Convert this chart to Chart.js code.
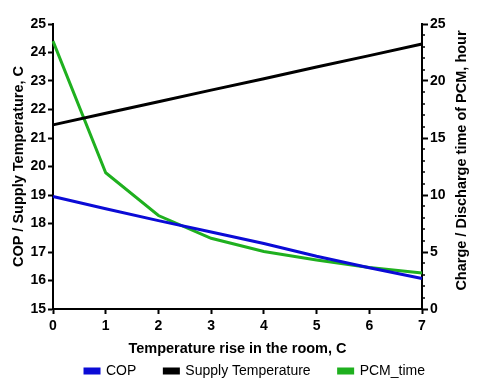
<!DOCTYPE html>
<html>
<head>
<meta charset="utf-8">
<script src="https://cdn.jsdelivr.net/npm/chart.js@4"></script>
<style>
  html, body { margin: 0; padding: 0; background: #fff; }
  #wrap { width: 480px; height: 388px; }
</style>
</head>
<body>
<div id="wrap"><canvas id="chartCop"></canvas></div>
<script>
// data
var riseLabels = [0, 1, 2, 3, 4, 5, 6, 7];
var copValues = [18.95, 18.52, 18.1, 17.7, 17.3, 16.85, 16.45, 16.07];
var supplyValues = [21.46, 21.87, 22.27, 22.68, 23.08, 23.49, 23.89, 24.3];
var pcmValues = [23.5, 11.95, 8.2, 6.2, 5.05, 4.3, 3.65, 3.15];

var fontFamily = '"Liberation Sans", Arial, sans-serif';
var rightTitle = 'Charge / Discharge time of PCM, hour';

// small ticks every 1 hour on the right axis + right title read bottom-to-top
var rightAxisExtras = {
    id: 'rightAxisExtras',
    afterDraw: function(chart) {
        var s = chart.scales.y1;
        var ctx = chart.ctx;
        ctx.save();
        ctx.strokeStyle = '#000';
        ctx.lineWidth = 1.5;
        for (var v = s.min; v <= s.max; v++) {
            if (v % 5 === 0) continue;
            var y = Math.round(s.getPixelForValue(v));
            ctx.beginPath();
            ctx.moveTo(s.left, y);
            ctx.lineTo(s.left + 3, y);
            ctx.stroke();
        }
        ctx.translate(s.right - 18, (chart.chartArea.top + chart.chartArea.bottom) / 2 - 6);
        ctx.rotate(-Math.PI / 2);
        ctx.fillStyle = '#000';
        ctx.font = 'bold 14.5px ' + fontFamily;
        ctx.textAlign = 'center';
        ctx.textBaseline = 'middle';
        ctx.fillText(rightTitle, 0, 0);
        ctx.restore();
    }
};

var ctx = document.getElementById('chartCop');
var myChartCop = new Chart(ctx, {
    type: 'line',
    data: {
        labels: riseLabels,
        datasets: [{
            label: 'COP',
            data: copValues,
            borderColor: '#0b0bd6',
            backgroundColor: '#0b0bd6',
            borderWidth: 3,
            pointRadius: 0,
            yAxisID: 'y'
        }, {
            label: 'Supply Temperature',
            data: supplyValues,
            borderColor: '#000000',
            backgroundColor: '#000000',
            borderWidth: 3,
            pointRadius: 0,
            yAxisID: 'y'
        }, {
            label: 'PCM_time',
            data: pcmValues,
            borderColor: '#1fb01f',
            backgroundColor: '#1fb01f',
            borderWidth: 3,
            pointRadius: 0,
            yAxisID: 'y1'
        }]
    },
    options: {
        responsive: true,
        maintainAspectRatio: false,
        animation: false,
        // left padding shifts the legend right like in the reference
        layout: { padding: { top: 24, left: 30, right: 0, bottom: 0 } },
        plugins: {
            legend: {
                position: 'bottom',
                labels: {
                    boxWidth: 14,
                    boxHeight: 4,
                    padding: 28,
                    color: '#000',
                    font: { family: fontFamily, size: 14 }
                }
            },
            tooltip: { enabled: false }
        },
        scales: {
            x: {
                offset: false,
                grid: { drawOnChartArea: false, tickLength: 5, tickWidth: 2, tickColor: '#000' },
                border: { color: '#000', width: 2 },
                ticks: { color: '#000', padding: 4, maxRotation: 0, font: { family: fontFamily, size: 14, weight: 'bold' } },
                title: {
                    display: true,
                    text: 'Temperature rise in the room, C',
                    color: '#000',
                    padding: { top: 0, bottom: -22 },
                    font: { family: fontFamily, size: 14.5, weight: 'bold' }
                },
                afterFit: function(scale) { scale.height = 27; }
            },
            y: {
                type: 'linear',
                position: 'left',
                min: 15,
                max: 25,
                grid: { drawOnChartArea: false, tickLength: 5, tickWidth: 2, tickColor: '#000' },
                border: { color: '#000', width: 2 },
                ticks: { stepSize: 1, color: '#000', padding: 2, font: { family: fontFamily, size: 14, weight: 'bold' } },
                title: {
                    display: true,
                    text: 'COP / Supply Temperature, C',
                    color: '#000',
                    padding: { top: -20, bottom: 0 },
                    font: { family: fontFamily, size: 14.5, weight: 'bold' }
                },
                afterFit: function(scale) { scale.width = 23; }
            },
            y1: {
                type: 'linear',
                position: 'right',
                min: 0,
                max: 25,
                grid: { drawOnChartArea: false, tickLength: 6, tickWidth: 2, tickColor: '#000' },
                border: { color: '#000', width: 2 },
                ticks: { stepSize: 5, color: '#000', padding: 2, font: { family: fontFamily, size: 14, weight: 'bold' } },
                afterFit: function(scale) { scale.width = 58; }
            }
        }
    },
    plugins: [rightAxisExtras]
});
</script>
</body>
</html>
